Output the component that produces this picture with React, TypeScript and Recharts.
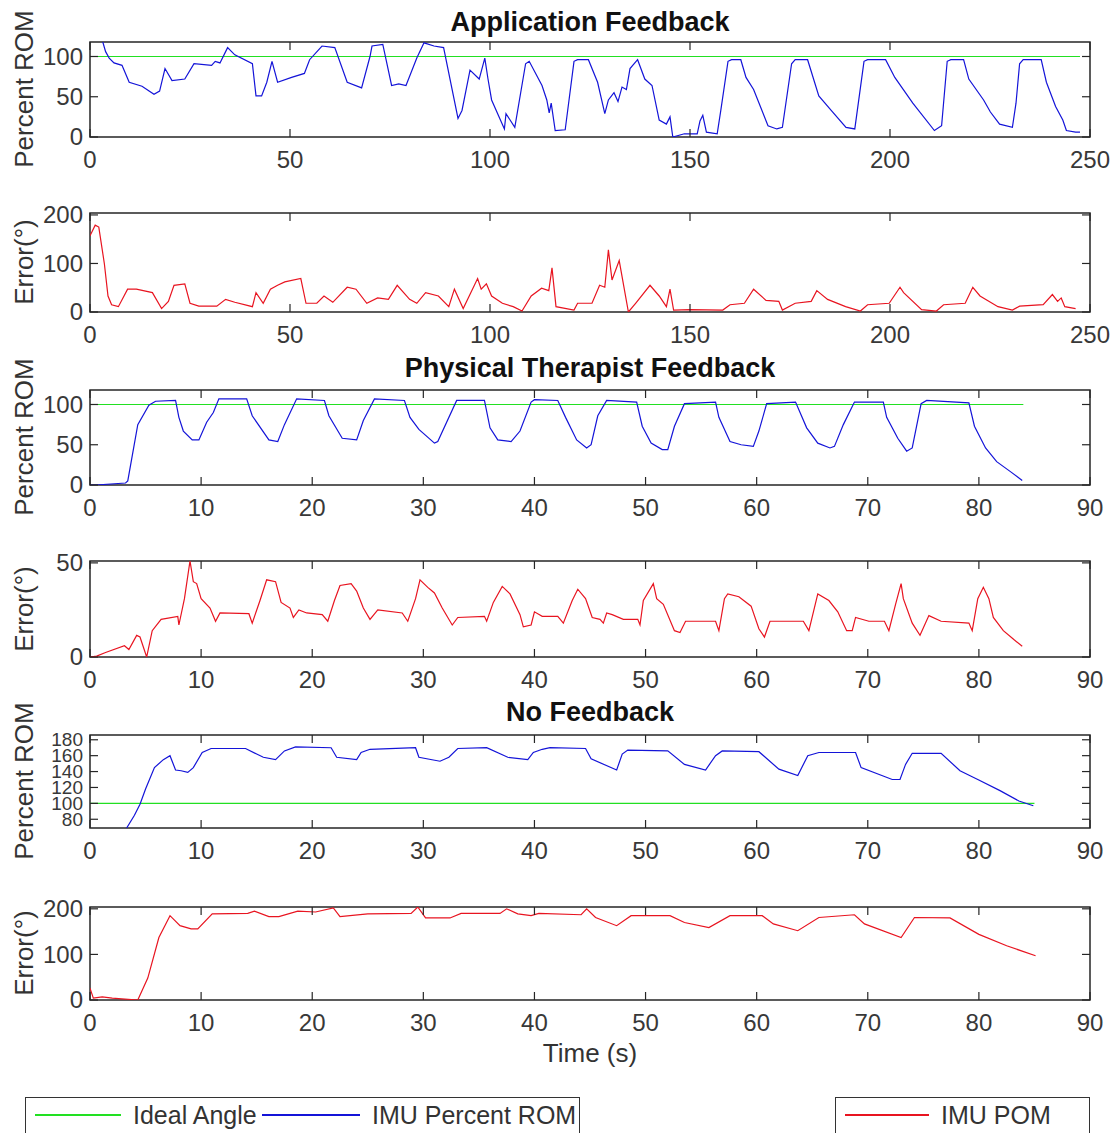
import { Line, LineChart, ReferenceArea, XAxis, YAxis } from "recharts";

const W = 1112;
const PLOT_LEFT = 90;
const PLOT_RIGHT = 1090;
const M_TOP = 40;
const AX_H = 45;
const Y_W = 60;
const FONT = "'Liberation Sans', Arial, Helvetica, sans-serif";

const GREEN = "#22e022";
const BLUE = "#1414d8";
const RED = "#e81420";

type Pt = [number, number];

// Application Feedback
const appRom: Pt[] = [
  [2.5, 130], [3.2, 118], [3.9, 106], [4.8, 98], [6, 92], [8, 89], [9.8, 68], [13, 63],
  [16, 53], [17.4, 57], [18.75, 85], [20.5, 70], [23.7, 72], [26, 91], [30.4, 89], [31.3, 94],
  [32.5, 92], [34.4, 111], [36.2, 102], [40.6, 91], [41.5, 51], [42.9, 51], [44.2, 68], [45.5, 94],
  [46.9, 68], [50.4, 74], [53.6, 79], [54.9, 96], [58, 113], [61.2, 111], [64.3, 68], [67.9, 61],
  [70, 100], [70.5, 113], [73.2, 115], [75.4, 64], [77.2, 66], [79, 64], [81.7, 98], [83.5, 117],
  [86, 113], [88.4, 111], [92, 23], [93, 33], [95, 83], [97.3, 72], [98.7, 98], [99.5, 72],
  [100.4, 46], [103.6, 10], [104, 29], [106.2, 12], [108.9, 91], [109.8, 94], [113, 64], [114.2, 46],
  [114.8, 30], [115.3, 42], [116.3, 8], [118.8, 9], [121, 94], [121.9, 96], [124.6, 96], [126.9, 68],
  [128.7, 29], [129.6, 46], [131, 55], [132, 44], [133, 62], [134.1, 59], [135, 85], [136.9, 96],
  [138.7, 72], [140.5, 64], [142.3, 21], [144.1, 16], [145, 25], [145.7, 0], [148.6, 4], [151.8, 4],
  [152.5, 20], [153.2, 27], [154.1, 6], [156.8, 4], [157.7, 33], [159.5, 94], [160.4, 96], [162.7, 96],
  [164, 74], [165.9, 59], [169.5, 14], [171.7, 10], [173.1, 12], [175.4, 91], [176.3, 96], [179.4, 96],
  [182.2, 51], [185.3, 33], [189, 12], [191.2, 10], [193.5, 94], [194.4, 96], [198.9, 96], [201.2, 74],
  [205.7, 42], [211.1, 8], [212.9, 14], [214.3, 94], [215.2, 96], [218.4, 96], [219.7, 72], [223.4, 46],
  [225.1, 31], [227.4, 16], [230.6, 12], [231.5, 42], [232.4, 91], [233.3, 96], [237.8, 96], [239.1, 68],
  [241.4, 38], [243.2, 21], [244.1, 8], [246.4, 6], [247.5, 6],
];
const appErr: Pt[] = [
  [0, 157], [1.3, 179], [2.2, 175], [3.6, 99], [4.5, 33], [5.4, 15], [7.1, 11], [9.4, 47],
  [11.6, 47], [15.6, 40], [17.9, 7], [19.6, 22], [21, 55], [23.7, 58], [25, 18], [27.2, 12],
  [31.7, 12], [33.9, 26], [36.2, 20], [40.6, 11], [41.5, 40], [43.3, 18], [45.1, 47], [46.9, 55],
  [48.7, 62], [52.7, 69], [54, 18], [56.7, 18], [58.5, 33], [60.7, 20], [64.3, 51], [66.5, 47],
  [69.2, 18], [71.9, 29], [74.6, 26], [76.8, 55], [79.9, 26], [81.7, 18], [83.9, 40], [87.1, 33],
  [89.7, 11], [91.1, 47], [93.3, 7], [96.9, 69], [97.8, 47], [99.1, 58], [100.4, 33], [103.1, 18],
  [105.8, 11], [108, 2], [110.3, 33], [112.9, 49], [114.7, 44], [115.5, 91], [116.5, 11], [121, 4],
  [121.9, 18], [125.5, 18], [127.4, 55], [128.7, 51], [129.6, 128], [130.5, 66], [132.3, 106], [134.6, 0],
  [136.4, 18], [140, 55], [142.3, 33], [144.1, 11], [145, 47], [145.9, 4], [150, 5], [158.2, 4],
  [160, 15], [163.6, 18], [165.9, 47], [169, 24], [172.2, 22], [173.1, 4], [176.3, 18], [180.3, 22],
  [181.7, 44], [184.4, 26], [188.9, 11], [192.6, 2], [194.4, 15], [199.8, 18], [202.5, 51], [203.4, 40],
  [207.9, 5], [211.6, 2], [213.4, 15], [218.8, 18], [220.7, 51], [222.5, 33], [227, 11], [230.6, 4],
  [232.4, 12], [238.3, 15], [240.6, 36], [241.9, 22], [242.8, 29], [243.7, 11], [246.4, 7],
];

// Physical Therapist Feedback
const ptRom: Pt[] = [
  [0, 0], [0.5, 0], [3.2, 2.5], [3.4, 5], [4.3, 75], [5.3, 99], [5.9, 104], [7.7, 105],
  [8, 84], [8.4, 67], [9.2, 56], [9.8, 56], [10.5, 78], [11.1, 90], [11.6, 107], [14.1, 107],
  [14.6, 86], [16.1, 56], [16.9, 54], [17.5, 75], [18.6, 107], [21.1, 105], [21.5, 86], [22.7, 58],
  [24, 56], [24.6, 80], [25.6, 107], [28.3, 105], [28.8, 84], [29.6, 69], [31, 52], [31.3, 54],
  [33, 105], [35.5, 105], [36, 71], [36.7, 56], [37.9, 54], [38.7, 67], [39.7, 103], [40, 106],
  [42.1, 105], [42.8, 84], [43.8, 56], [44.7, 46], [45.1, 50], [45.7, 86], [46.5, 105], [49.2, 103],
  [49.7, 73], [50.5, 52], [51.5, 44], [52, 44], [52.6, 73], [53.5, 101], [56.3, 103], [56.6, 84],
  [57.6, 54], [58.6, 50], [59.7, 48], [60.2, 67], [60.9, 101], [63.5, 103], [64.5, 71], [65.5, 52],
  [66.6, 46], [67, 48], [67.8, 75], [68.8, 103], [71.4, 103], [71.7, 84], [72.7, 58], [73.5, 42],
  [74, 46], [74.8, 101], [75.3, 105], [79.1, 102], [79.6, 73], [80.6, 46], [81.6, 29], [82.9, 16],
  [83.9, 5.5],
];
const ptErr: Pt[] = [
  [0, 0], [0.6, 0.5], [1.4, 2.4], [3.1, 6], [3.5, 4], [4.2, 11.5], [4.5, 10.6], [5.1, 0],
  [5.6, 14], [6.4, 20], [7.9, 21.6], [8, 17], [8.5, 31], [9, 51], [9.3, 40], [9.6, 39],
  [10, 31], [10.8, 26], [11.3, 19], [11.7, 23.4], [14.3, 23], [14.6, 18], [15.3, 30], [15.9, 41],
  [16.7, 40], [17.2, 29], [18, 26], [18.3, 21], [18.8, 25], [19.5, 23.4], [20.9, 22.5], [21.4, 19],
  [22, 30], [22.5, 38], [23.5, 39], [24, 35], [24.6, 26], [25.2, 20], [25.9, 25], [28.1, 23.4],
  [28.6, 19], [29.3, 31], [29.7, 41], [30.4, 37], [31, 34], [31.7, 26], [32.6, 17], [33.1, 21],
  [35.5, 21.6], [35.7, 19], [36.3, 29], [37.1, 37.5], [37.8, 33.5], [38.7, 22.5], [39, 16], [39.7, 17],
  [40, 24], [40.7, 21.6], [42.1, 21.6], [42.6, 18], [43.4, 30], [43.9, 36], [44.6, 31], [45.2, 21],
  [45.9, 20], [46.2, 18], [46.5, 23.4], [47, 22.5], [48, 20], [49.3, 20], [49.5, 17], [49.8, 30],
  [50.7, 39], [51, 31], [51.6, 28], [52.6, 14], [53.1, 13], [53.6, 19], [56.3, 19], [56.6, 14],
  [57.1, 31], [57.4, 33.5], [58.4, 32], [59.5, 27], [60.2, 15], [60.7, 10.6], [61.2, 19], [64.2, 19],
  [64.7, 14], [65.5, 33.5], [66.5, 30], [67.3, 24], [68.1, 14], [68.6, 14], [68.9, 21], [70.1, 19],
  [71.5, 19], [71.9, 14], [72.5, 28], [73, 39], [73.2, 31], [74, 18], [74.7, 11.5], [75.5, 22],
  [76.6, 19], [79.1, 18], [79.4, 14], [79.9, 31], [80.4, 37], [80.9, 31], [81.3, 21], [82.2, 14],
  [83.2, 9], [83.9, 5.7],
];

// No Feedback
const nfRom: Pt[] = [
  [3, 58], [3.3, 69], [4, 85], [4.5, 99], [5, 118], [5.8, 145], [6.6, 155], [7.2, 160],
  [7.7, 142], [8.2, 141], [8.8, 139], [9.3, 145], [10.1, 164], [10.9, 169], [14, 169], [15, 162],
  [15.6, 158], [16.7, 155], [17.5, 166], [18.5, 171], [21.7, 170], [22.2, 158], [24, 155], [24.4, 164],
  [25.2, 168], [29.3, 170], [29.6, 158], [31.5, 153], [32.3, 158], [33.1, 169], [35.7, 170], [37.6, 158],
  [39.4, 155], [39.9, 164], [40.7, 168], [41.4, 170], [44.6, 169], [45.1, 156], [47.4, 142], [47.9, 162],
  [48.4, 167], [52, 166], [53.5, 149], [55.4, 142], [56.3, 160], [56.9, 166], [60.2, 165], [62, 143],
  [63.7, 135], [64.6, 160], [65.6, 164], [68.9, 164], [69.4, 145], [72.2, 130], [72.9, 130], [73.4, 149],
  [74, 163], [76.6, 163], [78.3, 141], [79.9, 130], [81.9, 116], [83.6, 103], [84.9, 97],
];
const nfErr: Pt[] = [
  [0, 26], [0.3, 4], [1.1, 7], [2, 4], [4.3, 0], [5.2, 48], [6.2, 137], [7.2, 185],
  [8.1, 163], [9.1, 156], [9.7, 156], [11, 189], [14.2, 190], [14.8, 195], [16.1, 183], [17, 183],
  [18.7, 195], [20.3, 193], [21.9, 202], [22.5, 183], [25, 189], [28.9, 190], [29.5, 204], [30.2, 180],
  [32.4, 180], [33.4, 190], [36.9, 190], [37.5, 200], [38.5, 189], [39.7, 185], [40.4, 190], [44.2, 187],
  [44.7, 200], [45.5, 181], [47.4, 163], [48.7, 185], [52.2, 185], [53.5, 170], [55.7, 159], [57.6, 185],
  [60.5, 185], [61.5, 167], [63.7, 152], [65.6, 181], [68.8, 187], [69.7, 167], [73, 137], [74.2, 181],
  [77.4, 180], [80, 144], [82.5, 119], [85.1, 97],
];

// ideal angle reference (start, end of recording)
const appIdeal: Pt[] = [[0, 100], [247.5, 100]];
const ptIdeal: Pt[] = [[0, 100], [84, 100]];
const nfIdeal: Pt[] = [[0, 100], [85, 100]];

const longTicks = [0, 50, 100, 150, 200, 250];
const shortTicks = [0, 10, 20, 30, 40, 50, 60, 70, 80, 90];

const toRows = (pts: Pt[]) => pts.map(([t, v]) => ({ t, v }));

type Series = { pts: Pt[]; color: string };
type PanelProps = {
  top: number;
  bottom: number;
  xDomain: [number, number];
  xTicks: number[];
  yDomain: [number, number];
  yTicks: number[];
  series: Series[];
  yFont?: number;
};

const Panel = ({ top, bottom, xDomain, xTicks, yDomain, yTicks, series, yFont = 24 }: PanelProps) => {
  const h = M_TOP + (bottom - top) + AX_H;

  const XTick = (p: any) => {
    const { x, y, payload } = p;
    return (
      <g>
        <line x1={x} x2={x} y1={y} y2={y - 8} stroke="#262626" strokeWidth={1.2} />
        <line x1={x} x2={x} y1={M_TOP} y2={M_TOP + 8} stroke="#262626" strokeWidth={1.2} />
        <text x={x} y={y + 31} textAnchor="middle" fontSize={24} fill="#383838" fontFamily={FONT}>
          {payload.value}
        </text>
      </g>
    );
  };

  const YTick = (p: any) => {
    const { x, y, payload } = p;
    return (
      <g>
        <line x1={x} x2={x + 8} y1={y} y2={y} stroke="#262626" strokeWidth={1.2} />
        <line x1={PLOT_RIGHT} x2={PLOT_RIGHT - 8} y1={y} y2={y} stroke="#262626" strokeWidth={1.2} />
        <text x={x - 7} y={y + yFont * 0.35} textAnchor="end" fontSize={yFont} fill="#383838" fontFamily={FONT}>
          {payload.value}
        </text>
      </g>
    );
  };

  return (
    <div style={{ position: "absolute", left: 0, top: top - M_TOP }}>
      <LineChart
        width={W}
        height={h}
        margin={{ top: M_TOP, right: W - PLOT_RIGHT, bottom: 0, left: PLOT_LEFT - Y_W }}
      >
        <XAxis
          type="number"
          dataKey="t"
          domain={xDomain}
          ticks={xTicks}
          interval={0}
          allowDataOverflow
          axisLine={false}
          tickSize={0}
          tickMargin={0}
          tick={XTick}
          height={AX_H}
        />
        <YAxis
          type="number"
          dataKey="v"
          domain={yDomain}
          ticks={yTicks}
          interval={0}
          allowDataOverflow
          axisLine={false}
          tickSize={0}
          tickMargin={0}
          tick={YTick}
          width={Y_W}
        />
        <ReferenceArea
          x1={xDomain[0]}
          x2={xDomain[1]}
          y1={yDomain[0]}
          y2={yDomain[1]}
          fill="none"
          stroke="#262626"
          strokeWidth={1.5}
        />
        {series.map((s, i) => (
          <Line
            key={i}
            data={toRows(s.pts)}
            dataKey="v"
            type="linear"
            stroke={s.color}
            strokeWidth={1.2}
            dot={false}
            activeDot={false}
            isAnimationActive={false}
          />
        ))}
      </LineChart>
    </div>
  );
};

const Title = ({ y, text }: { y: number; text: string }) => (
  <div
    style={{
      position: "absolute",
      left: PLOT_LEFT,
      width: PLOT_RIGHT - PLOT_LEFT,
      top: y - 15,
      lineHeight: "30px",
      textAlign: "center",
      fontSize: 27,
      fontWeight: "bold",
      color: "#111",
      fontFamily: FONT,
    }}
  >
    {text}
  </div>
);

const YLabel = ({ y, text }: { y: number; text: string }) => (
  <div
    style={{
      position: "absolute",
      left: 24,
      top: y,
      transform: "translate(-50%, -50%) rotate(-90deg)",
      whiteSpace: "nowrap",
      fontSize: 26,
      lineHeight: "30px",
      color: "#333",
      fontFamily: FONT,
    }}
  >
    {text}
  </div>
);

// legend sample line + label, placed by its left edge inside the page
const LegendItem = ({ x, len, color, label }: { x: number; len: number; color: string; label: string }) => (
  <>
    <div
      style={{
        position: "absolute",
        left: x,
        top: 1114,
        width: len,
        borderTop: `2px solid ${color}`,
      }}
    />
    <div
      style={{
        position: "absolute",
        left: x + len + 12,
        top: 1100,
        lineHeight: "30px",
        fontSize: 25,
        color: "#333",
        fontFamily: FONT,
        whiteSpace: "nowrap",
      }}
    >
      {label}
    </div>
  </>
);

const legendBox = (left: number, width: number) => ({
  position: "absolute" as const,
  left,
  top: 1097,
  width,
  height: 50,
  border: "1px solid #333",
  boxSizing: "border-box" as const,
});

const App = () => {
  return (
    <div
      style={{
        position: "absolute",
        left: 0,
        top: 0,
        width: W,
        height: 1133,
        overflow: "hidden",
        background: "#fff",
      }}
    >
      <Title y={22} text="Application Feedback" />
      <Panel
        top={42}
        bottom={137}
        xDomain={[0, 250]}
        xTicks={longTicks}
        yDomain={[0, 118]}
        yTicks={[0, 50, 100]}
        series={[
          { pts: appIdeal, color: GREEN },
          { pts: appRom, color: BLUE },
        ]}
      />
      <YLabel y={89} text="Percent ROM" />

      <Panel
        top={213}
        bottom={312}
        xDomain={[0, 250]}
        xTicks={longTicks}
        yDomain={[0, 204]}
        yTicks={[0, 100, 200]}
        series={[{ pts: appErr, color: RED }]}
      />
      <YLabel y={262} text="Error(°)" />

      <Title y={368} text="Physical Therapist Feedback" />
      <Panel
        top={390}
        bottom={485}
        xDomain={[0, 90]}
        xTicks={shortTicks}
        yDomain={[0, 118]}
        yTicks={[0, 50, 100]}
        series={[
          { pts: ptIdeal, color: GREEN },
          { pts: ptRom, color: BLUE },
        ]}
      />
      <YLabel y={437} text="Percent ROM" />

      <Panel
        top={561}
        bottom={657}
        xDomain={[0, 90]}
        xTicks={shortTicks}
        yDomain={[0, 51]}
        yTicks={[0, 50]}
        series={[{ pts: ptErr, color: RED }]}
      />
      <YLabel y={609} text="Error(°)" />

      <Title y={712} text="No Feedback" />
      <Panel
        top={735}
        bottom={828}
        xDomain={[0, 90]}
        xTicks={shortTicks}
        yDomain={[69, 186]}
        yTicks={[80, 100, 120, 140, 160, 180]}
        yFont={19}
        series={[
          { pts: nfIdeal, color: GREEN },
          { pts: nfRom, color: BLUE },
        ]}
      />
      <YLabel y={781} text="Percent ROM" />

      <Panel
        top={907}
        bottom={1000}
        xDomain={[0, 90]}
        xTicks={shortTicks}
        yDomain={[0, 204]}
        yTicks={[0, 100, 200]}
        series={[{ pts: nfErr, color: RED }]}
      />
      <YLabel y={953} text="Error(°)" />

      <div
        style={{
          position: "absolute",
          left: PLOT_LEFT,
          width: PLOT_RIGHT - PLOT_LEFT,
          top: 1038,
          lineHeight: "30px",
          textAlign: "center",
          fontSize: 26,
          color: "#333",
          fontFamily: FONT,
        }}
      >
        Time (s)
      </div>

      <div style={legendBox(25, 555)} />
      <LegendItem x={35} len={86} color={GREEN} label="Ideal Angle" />
      <LegendItem x={262} len={98} color={BLUE} label="IMU Percent ROM" />
      <div style={legendBox(835, 255)} />
      <LegendItem x={845} len={84} color={RED} label="IMU POM" />
    </div>
  );
};

export default App;
